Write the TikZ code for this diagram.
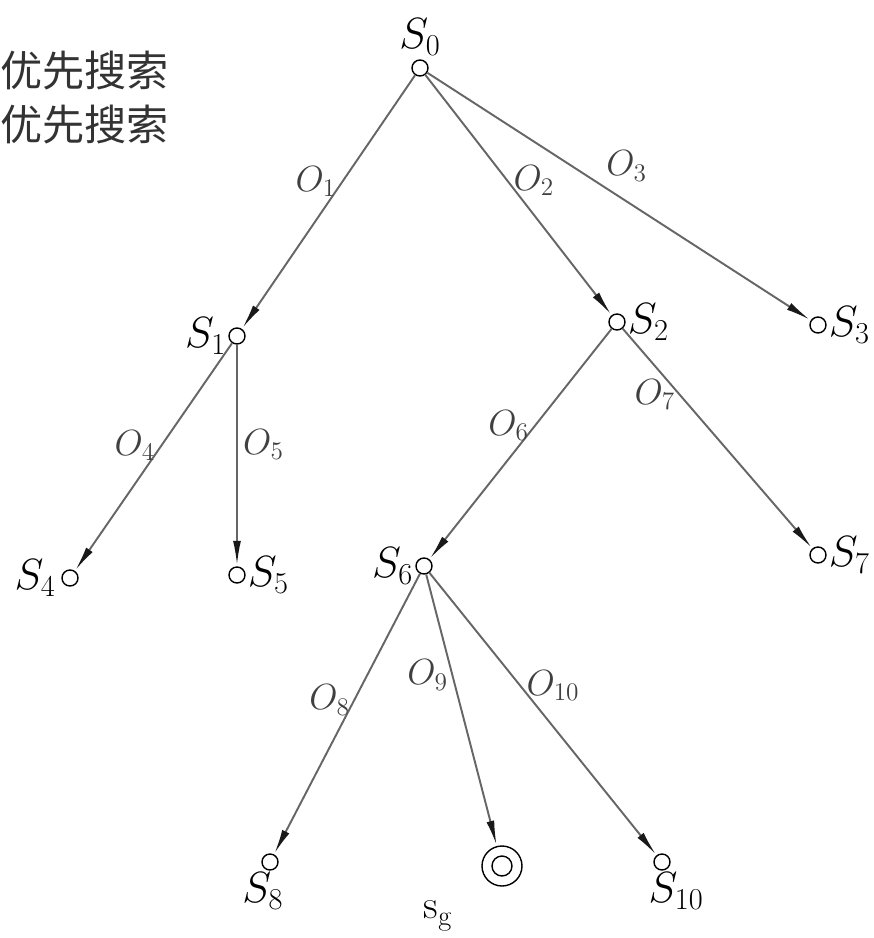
\documentclass[tikz,border=0pt]{standalone}
\usepackage{fontspec}
\newfontfamily\cjk{Noto Sans CJK SC}
\usepackage{tikz}
\usetikzlibrary{arrows.meta, positioning}

\begin{document}
\begin{tikzpicture}[
        x=0.02cm, y=-0.02cm,
        state/.style={circle, draw, thick, inner sep=0pt, minimum size=0.32cm},
        goal/.style={circle, draw, thick, inner sep=0pt, minimum size=0.8cm},
        lbl/.style={font=\fontsize{23}{26}\selectfont, inner sep=1pt},
        oplbl/.style={font=\fontsize{20}{23}\selectfont, text=black!75, inner sep=1pt},
        arrow/.style={-{Latex[length=14pt, width=4.5pt, color=black!90]}, line width=1.1pt, black!60, shorten >=0.5pt}
    ]

    \useasboundingbox (0,0) rectangle (874,938);

    % text at the left
    \node[anchor=west, inner sep=0pt, text=black!80, font=\cjk\fontsize{24}{28}\selectfont] (t1) at (0,71) {优先搜索};
    \node[anchor=west, inner sep=0pt, text=black!80, font=\cjk\fontsize{24}{28}\selectfont] (t2) at (0,125) {优先搜索};

    % states
    \node[state] (S0) at (420,68) {};
    \node[state] (S1) at (237,336) {};
    \node[state] (S2) at (617,322) {};
    \node[state] (S3) at (818,325) {};
    \node[state] (S4) at (70,578) {};
    \node[state] (S5) at (237,575) {};
    \node[state] (S6) at (424,566) {};
    \node[state] (S7) at (818,555) {};
    \node[state] (S8) at (270,862) {};
    \node[goal]  (Sg) at (502,866) {};
    \draw[thick] (Sg.center) circle (10);
    \node[state] (S10) at (662,862) {};

    \node[lbl] (l0) [above=1pt of S0] {$S_0$};
    \node[lbl] (l1) [left=0pt of S1] {$S_1$};
    \node[lbl] (l2) [right=0pt of S2] {$S_2$};
    \node[lbl] (l3) [right=0pt of S3] {$S_3$};
    \node[lbl] (l4) [left=2pt of S4] {$S_4$};
    \node[lbl] (l5) [right=0pt of S5] {$S_5$};
    \node[lbl] (l6) [left=0pt of S6] {$S_6$};
    \node[lbl] (l7) [right=0pt of S7] {$S_7$};
    \node[lbl] (l8) [below=0pt of S8, xshift=-4pt] {$S_8$};
    \node[lbl] (lg) at (438,916) {$\mathrm{s}_\mathrm{g}$};
    \node[lbl] (l10) [below=0pt of S10, xshift=8pt] {$S_{10}$};

    % operators
    \draw[arrow] (S0) -- (S1) node[oplbl, pos=0.42, left=2pt] {$O_1$};
    \draw[arrow] (S0) -- (S2) node[oplbl, pos=0.44, right=2pt] {$O_2$};
    \draw[arrow] (S0) -- (S3) node[oplbl, pos=0.52, above=10pt] {$O_3$};
    \draw[arrow] (S1) -- (S4) node[oplbl, pos=0.45, left=2pt] {$O_4$};
    \draw[arrow] (S1) -- (S5) node[oplbl, pos=0.45, right=2pt] {$O_5$};
    \draw[arrow] (S2) -- (S6) node[oplbl, pos=0.42, left=2pt] {$O_6$};
    \draw[arrow] (S2) -- (S7) node[oplbl, pos=0.3, left=1pt] {$O_7$};
    \draw[arrow] (S6) -- (S8) node[oplbl, pos=0.45, left=1pt] {$O_8$};
    \draw[arrow] (S6) -- (Sg) node[oplbl, pos=0.37, left=1pt] {$O_9$};
    \draw[arrow] (S6) -- (S10) node[oplbl, pos=0.4, right=2pt] {$O_{10}$};
    \end{tikzpicture}
\end{document}
